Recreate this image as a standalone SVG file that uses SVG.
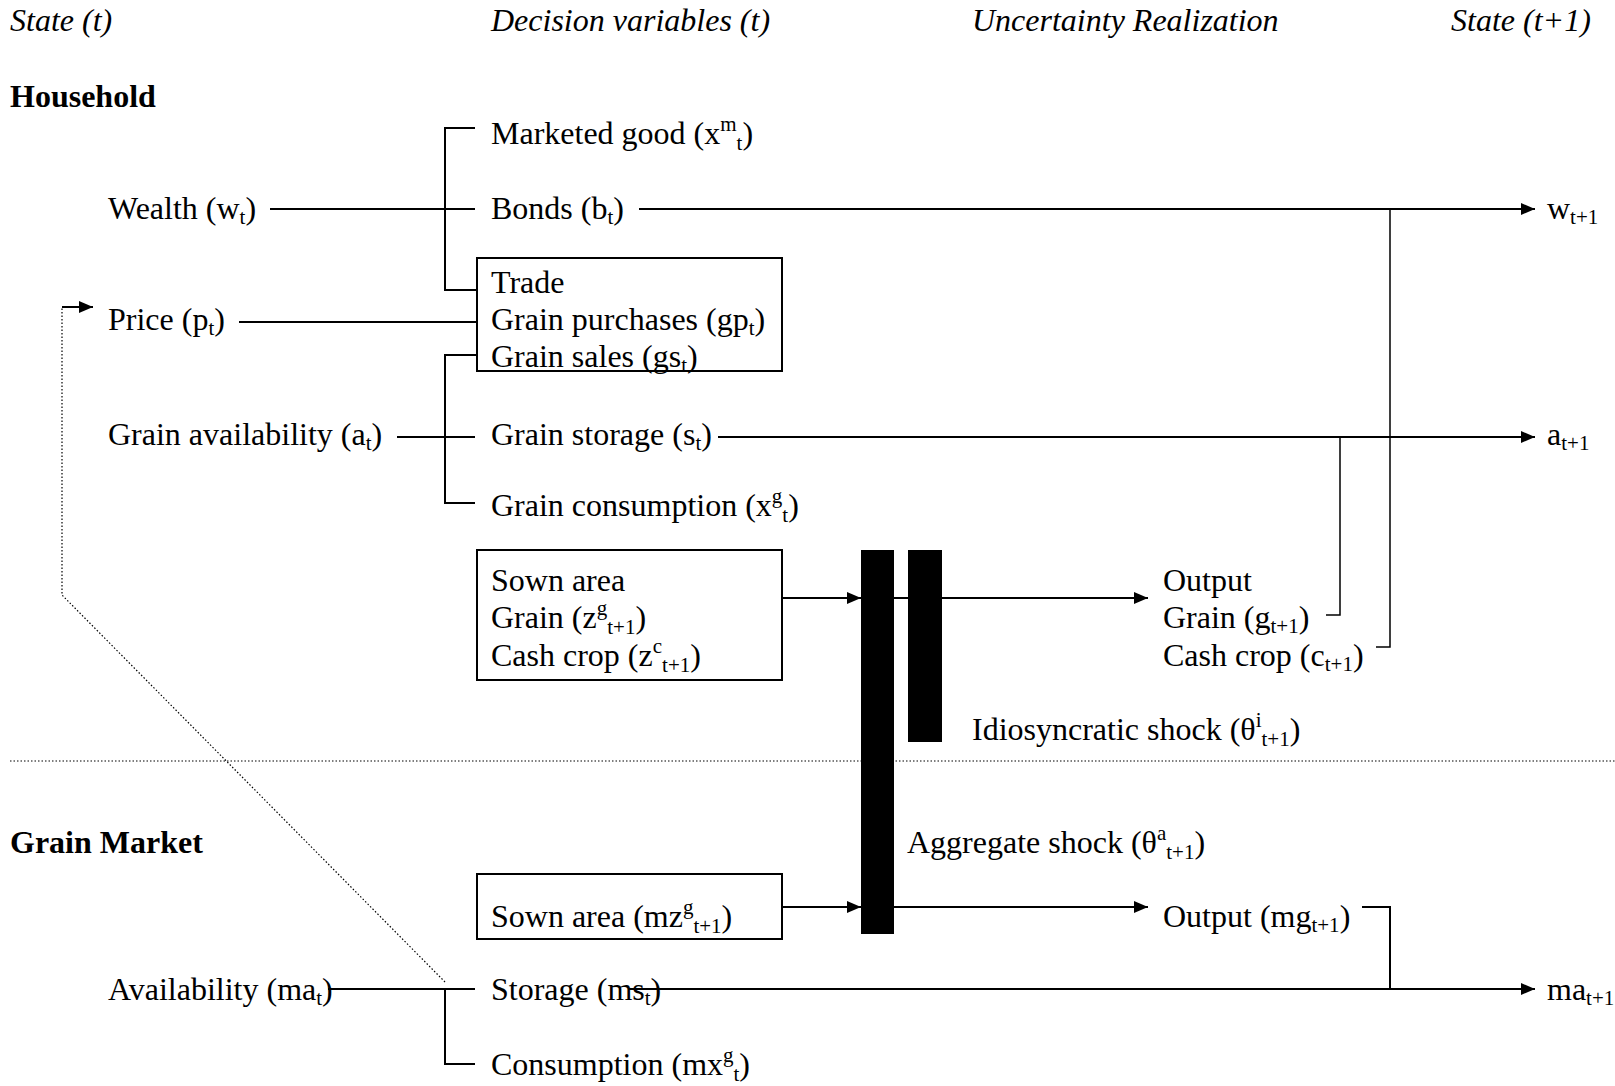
<svg xmlns="http://www.w3.org/2000/svg" width="1615" height="1086" viewBox="0 0 1615 1086">
<style>
text{font-family:"Liberation Serif","Times New Roman",serif;font-size:32px;fill:#000}
.i{font-style:italic}
.b{font-weight:bold}
.s{font-size:21px}
.ln{stroke:#000;stroke-width:2;fill:none}
.th{stroke:#000;stroke-width:1.5;fill:none}
.dot{stroke:#000;stroke-width:1.2;stroke-dasharray:1.5 2;fill:none}
.box{stroke:#000;stroke-width:2;fill:#fff}
.bar{fill:#000}
</style>
<defs>
<marker id="ah" markerUnits="userSpaceOnUse" markerWidth="16" markerHeight="14" refX="14" refY="6" orient="auto">
<path d="M0,0 L14,6 L0,12 z" fill="#000"/>
</marker>
</defs>
<rect width="1615" height="1086" fill="#fff"/>

<g id="headers">
<text class="i" x="10" y="31">State (t)</text>
<text class="i" x="491" y="31">Decision variables (t)</text>
<text class="i" x="972" y="31">Uncertainty Realization</text>
<text class="i" x="1451" y="31">State (t+1)</text>
<text class="b" x="10" y="107">Household</text>
<text class="b" x="10" y="853">Grain Market</text>
</g>

<g id="connectors">
<line class="dot" x1="10" y1="761" x2="1615" y2="761"/>
<polyline class="dot" points="445,982 62,595 62,307"/>
<line class="ln" x1="62" y1="307" x2="93" y2="307" marker-end="url(#ah)"/>
<polyline class="ln" points="475,128 445,128 445,290 477,290"/>
<line class="ln" x1="270" y1="209" x2="475" y2="209"/>
<line class="ln" x1="639" y1="209" x2="1535" y2="209" marker-end="url(#ah)"/>
<line class="ln" x1="239" y1="322" x2="477" y2="322"/>
<polyline class="ln" points="477,355 445,355 445,503 475,503"/>
<line class="ln" x1="397" y1="437" x2="475" y2="437"/>
<line class="ln" x1="718" y1="437" x2="1535" y2="437" marker-end="url(#ah)"/>
<line class="ln" x1="782" y1="598" x2="861" y2="598" marker-end="url(#ah)"/>
<line class="ln" x1="894" y1="598" x2="908" y2="598"/>
<line class="ln" x1="942" y1="598" x2="1148" y2="598" marker-end="url(#ah)"/>
<polyline class="th" points="1326,615 1340,615 1340,437"/>
<polyline class="th" points="1376,647 1390,647 1390,209"/>
<line class="ln" x1="782" y1="907" x2="861" y2="907" marker-end="url(#ah)"/>
<line class="ln" x1="894" y1="907" x2="1148" y2="907" marker-end="url(#ah)"/>
<polyline class="ln" points="1362,907 1390,907 1390,989"/>
<line class="ln" x1="328" y1="989" x2="475" y2="989"/>
<polyline class="ln" points="445,989 445,1064 475,1064"/>
<line class="ln" x1="628" y1="989" x2="1535" y2="989" marker-end="url(#ah)"/>
</g>

<g id="shock-bars">
<rect class="bar" x="861" y="550" width="33" height="384"/>
<rect class="bar" x="908" y="550" width="34" height="192"/>
</g>

<g id="state-t">
<text x="108" y="219">Wealth (w<tspan class="s" dy="5">t</tspan><tspan dy="-5">)</tspan></text>
<text x="108" y="330">Price (p<tspan class="s" dy="5">t</tspan><tspan dy="-5">)</tspan></text>
<text x="108" y="445">Grain availability (a<tspan class="s" dy="5">t</tspan><tspan dy="-5">)</tspan></text>
<text x="108" y="1000">Availability (ma<tspan class="s" dy="5">t</tspan><tspan dy="-5">)</tspan></text>
</g>

<g id="decisions">
<text x="491" y="144">Marketed good (x<tspan class="s" dy="-13">m</tspan><tspan class="s" dy="19">t</tspan><tspan dy="-6">)</tspan></text>
<text x="491" y="219">Bonds (b<tspan class="s" dy="5">t</tspan><tspan dy="-5">)</tspan></text>
<text x="491" y="445">Grain storage (s<tspan class="s" dy="5">t</tspan><tspan dy="-5">)</tspan></text>
<text x="491" y="516">Grain consumption (x<tspan class="s" dy="-13">g</tspan><tspan class="s" dy="19">t</tspan><tspan dy="-6">)</tspan></text>
<text x="491" y="1000">Storage (ms<tspan class="s" dy="5">t</tspan><tspan dy="-5">)</tspan></text>
<text x="491" y="1075">Consumption (mx<tspan class="s" dy="-13">g</tspan><tspan class="s" dy="19">t</tspan><tspan dy="-6">)</tspan></text>
</g>

<g id="trade-box">
<rect class="box" x="477" y="258" width="305" height="113"/>
<text x="491" y="293">Trade</text>
<text x="491" y="330">Grain purchases (gp<tspan class="s" dy="5">t</tspan><tspan dy="-5">)</tspan></text>
<text x="491" y="367">Grain sales (gs<tspan class="s" dy="5">t</tspan><tspan dy="-5">)</tspan></text>
</g>

<g id="sown-box">
<rect class="box" x="477" y="550" width="305" height="130"/>
<text x="491" y="591">Sown area</text>
<text x="491" y="628">Grain (z<tspan class="s" dy="-13">g</tspan><tspan class="s" dy="19">t+1</tspan><tspan dy="-6">)</tspan></text>
<text x="491" y="666">Cash crop (z<tspan class="s" dy="-13">c</tspan><tspan class="s" dy="19">t+1</tspan><tspan dy="-6">)</tspan></text>
</g>

<g id="market-sown-box">
<rect class="box" x="477" y="874" width="305" height="65"/>
<text x="491" y="927">Sown area (mz<tspan class="s" dy="-13">g</tspan><tspan class="s" dy="19">t+1</tspan><tspan dy="-6">)</tspan></text>
</g>

<g id="output">
<text x="1163" y="591">Output</text>
<text x="1163" y="628">Grain (g<tspan class="s" dy="5">t+1</tspan><tspan dy="-5">)</tspan></text>
<text x="1163" y="666">Cash crop (c<tspan class="s" dy="5">t+1</tspan><tspan dy="-5">)</tspan></text>
</g>

<g id="market-output">
<text x="1163" y="927">Output (mg<tspan class="s" dy="5">t+1</tspan><tspan dy="-5">)</tspan></text>
</g>

<g id="shocks">
<text x="972" y="740">Idiosyncratic shock (θ<tspan class="s" dy="-13">i</tspan><tspan class="s" dy="19">t+1</tspan><tspan dy="-6">)</tspan></text>
<text x="907" y="853">Aggregate shock (θ<tspan class="s" dy="-13">a</tspan><tspan class="s" dy="19">t+1</tspan><tspan dy="-6">)</tspan></text>
</g>

<g id="state-t1">
<text x="1547" y="219">w<tspan class="s" dy="5">t+1</tspan></text>
<text x="1547" y="445">a<tspan class="s" dy="5">t+1</tspan></text>
<text x="1547" y="1000">ma<tspan class="s" dy="5">t+1</tspan></text>
</g>
</svg>
